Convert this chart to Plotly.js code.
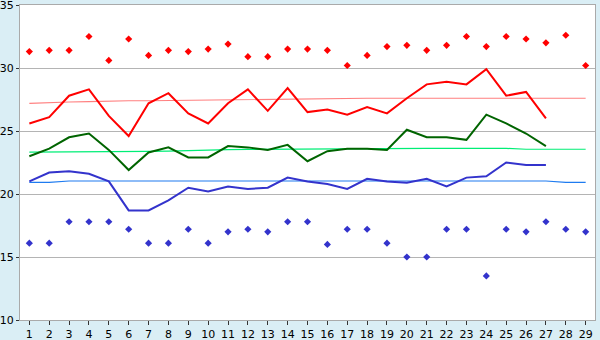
<!DOCTYPE html>
<html>
<head>
<meta charset="utf-8">
<script src="https://cdn.plot.ly/plotly-3.0.1.min.js"></script>
<style>html,body{margin:0;padding:0;background:#daeef5;}#chart{width:600px;height:340px;}</style>
</head>
<body>
<div id="chart"></div>
<script>
const days = [1,2,3,4,5,6,7,8,9,10,11,12,13,14,15,16,17,18,19,20,21,22,23,24,25,26,27,28,29];
const lineDays = [1,2,3,4,5,6,7,8,9,10,11,12,13,14,15,16,17,18,19,20,21,22,23,24,25,26,27];
const maxTemp = [25.6,26.1,27.8,28.3,26.2,24.6,27.2,28.0,26.4,25.6,27.2,28.3,26.6,28.4,26.5,26.7,26.3,26.9,26.4,27.6,28.7,28.9,28.7,29.9,27.8,28.1,26.0];
const meanTemp = [23.0,23.6,24.5,24.8,23.5,21.9,23.3,23.7,22.9,22.9,23.8,23.7,23.5,23.9,22.6,23.4,23.6,23.6,23.5,25.1,24.5,24.5,24.3,26.3,25.6,24.8,23.8];
const minTemp = [21.0,21.7,21.8,21.6,21.0,18.7,18.7,19.5,20.5,20.2,20.6,20.4,20.5,21.3,21.0,20.8,20.4,21.2,21.0,20.9,21.2,20.6,21.3,21.4,22.5,22.3,22.3];
const normalMax = [27.2,27.27,27.3,27.33,27.38,27.4,27.4,27.42,27.45,27.47,27.5,27.53,27.55,27.57,27.6,27.6,27.6,27.6,27.6,27.6,27.6,27.6,27.6,27.6,27.6,27.6,27.6,27.6,27.6];
const normalMean = [23.33,23.33,23.34,23.35,23.36,23.37,23.38,23.4,23.45,23.5,23.52,23.54,23.55,23.58,23.6,23.62,23.62,23.62,23.62,23.62,23.62,23.62,23.62,23.62,23.62,23.55,23.55,23.55,23.55];
const normalMin = [20.93,20.93,21.03,21.03,21.03,21.03,21.03,21.03,21.03,21.03,21.03,21.03,21.03,21.03,21.03,21.03,21.03,21.03,21.03,21.03,21.03,21.03,21.03,21.03,21.03,21.03,21.03,20.93,20.93];
const recordHigh = [31.3,31.4,31.4,32.5,30.6,32.3,31.0,31.4,31.3,31.5,31.9,30.9,30.9,31.5,31.5,31.4,30.2,31.0,31.7,31.8,31.4,31.8,32.5,31.7,32.5,32.3,32.0,32.6,30.2];
const recordLow = [16.1,16.1,17.8,17.8,17.8,17.2,16.1,16.1,17.2,16.1,17.0,17.2,17.0,17.8,17.8,16.0,17.2,17.2,16.1,15.0,15.0,17.2,17.2,13.5,17.2,17.0,17.8,17.2,17.0];
const yTicks = [10,15,20,25,30,35];

const traces = [
  {x: days, y: normalMax, mode: 'lines', line: {color: '#ff7f7f', width: 1.2}},
  {x: days, y: normalMean, mode: 'lines', line: {color: '#00ee76', width: 1.2}},
  {x: days, y: normalMin, mode: 'lines', line: {color: '#1e7bf0', width: 1.2}},
  {x: lineDays, y: maxTemp, mode: 'lines', line: {color: '#ff0000', width: 2}},
  {x: lineDays, y: meanTemp, mode: 'lines', line: {color: '#006400', width: 2}},
  {x: lineDays, y: minTemp, mode: 'lines', line: {color: '#3333cc', width: 2}},
  {x: days, y: recordHigh, mode: 'markers', marker: {symbol: 'diamond', size: 5.5, color: '#ff0000'}},
  {x: days, y: recordLow, mode: 'markers', marker: {symbol: 'diamond', size: 5.5, color: '#3333cc'}}
];

const layout = {
  width: 600, height: 340,
  margin: {l: 20, r: 5, t: 5, b: 20, pad: 0},
  paper_bgcolor: '#daeef5',
  plot_bgcolor: '#ffffff',
  showlegend: false,
  font: {family: 'DejaVu Sans, Verdana, sans-serif', size: 11, color: '#000000'},
  xaxis: {
    range: [0.53, 29.47],
    tickvals: days, ticktext: days.map(String),
    ticks: 'outside', ticklen: 4, tickcolor: '#333333',
    ticklabelstandoff: 0,
    showgrid: false, zeroline: false,
    showline: true, linecolor: '#aaaaaa', linewidth: 1, mirror: true,
    tickfont: {size: 11}
  },
  yaxis: {
    range: [10, 35],
    tickvals: yTicks,
    ticks: 'outside', ticklen: 3, tickcolor: '#333333',
    ticklabeloverflow: 'allow',
    showgrid: true, gridcolor: '#b4b4b4', gridwidth: 1,
    zeroline: false,
    showline: true, linecolor: '#aaaaaa', linewidth: 1, mirror: true,
    tickfont: {size: 11}
  }
};

Plotly.newPlot('chart', traces, layout, {displayModeBar: false, staticPlot: true});
</script>
</body>
</html>
